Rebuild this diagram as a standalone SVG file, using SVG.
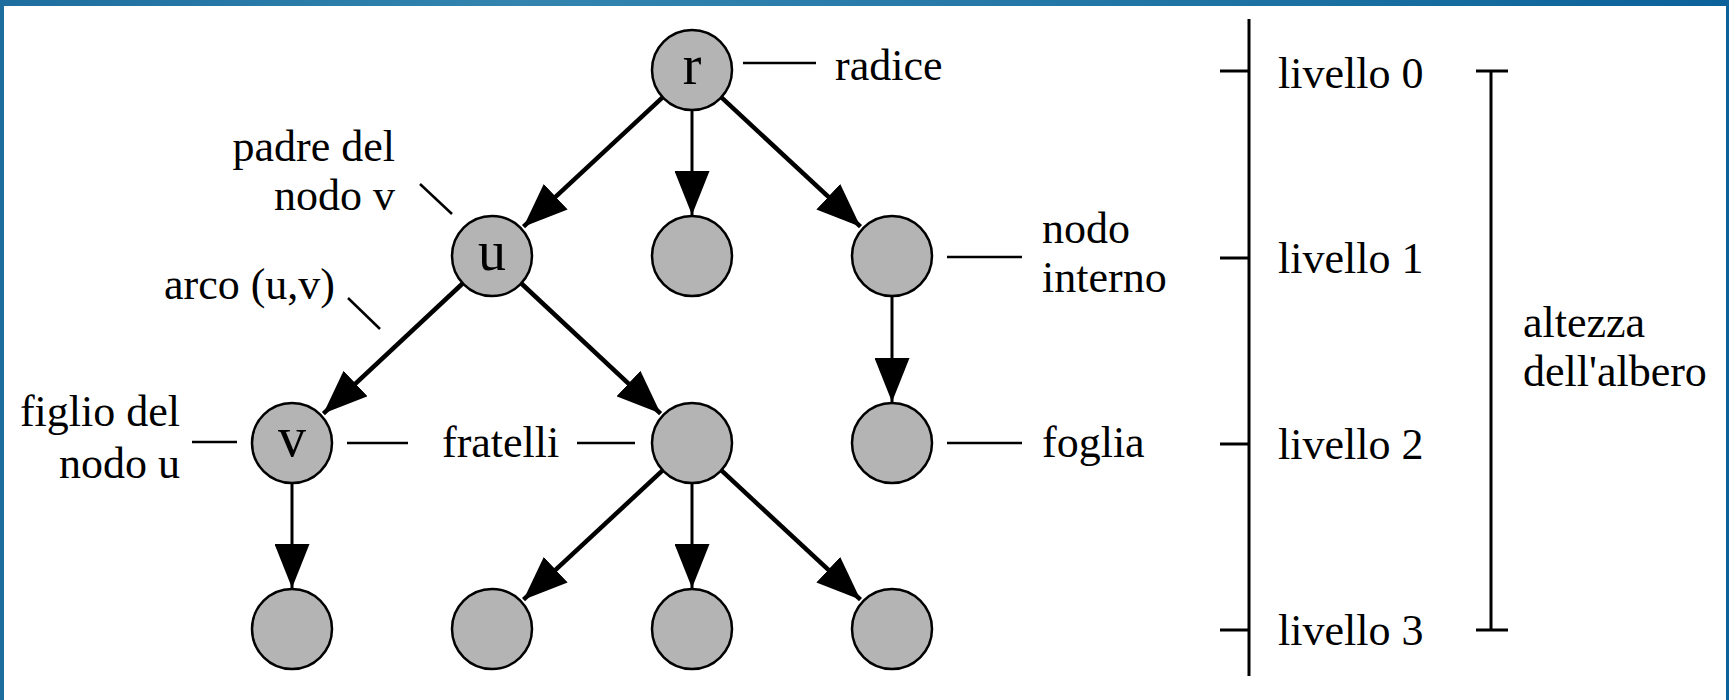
<svg xmlns="http://www.w3.org/2000/svg" width="1729" height="700" viewBox="0 0 1729 700">
<style>
text{font-family:"Liberation Serif","Times New Roman",serif;font-size:44px;fill:#000}
.lbl{font-size:56px}
.node{fill:#b4b4b4;stroke:#000;stroke-width:2.5}
.edge{stroke:#000;stroke-width:4.5;fill:none}
.vert{stroke-width:3}
.lead{stroke:#000;stroke-width:2.5;fill:none}
.scale{stroke:#000;stroke-width:3;fill:none}
</style>
<defs>
<linearGradient id="bg" x1="0" y1="0" x2="1" y2="0">
<stop offset="0" stop-color="#1d6e9e"/>
<stop offset="0.3" stop-color="#3385b0"/>
<stop offset="0.7" stop-color="#1f73a3"/>
<stop offset="1" stop-color="#0b6199"/>
</linearGradient>
<marker id="ah" viewBox="0 0 44 35" refX="44" refY="17.5" markerWidth="44" markerHeight="35" markerUnits="userSpaceOnUse" orient="auto">
<path d="M0,0 L44,17.5 L0,35 Z" fill="#000"/>
</marker>
</defs>
<rect x="0" y="0" width="1729" height="700" fill="url(#bg)"/>
<rect x="4" y="6" width="1722" height="694" fill="#fff"/>

<g id="connectors">
<line class="edge" x1="664.2" y1="95.9" x2="523.5" y2="226.7" marker-end="url(#ah)"/>
<line class="edge vert" x1="692" y1="108" x2="692" y2="215" marker-end="url(#ah)"/>
<line class="edge" x1="719.8" y1="95.9" x2="860.5" y2="226.7" marker-end="url(#ah)"/>
<line class="edge" x1="464.2" y1="282" x2="323.4" y2="413.6" marker-end="url(#ah)"/>
<line class="edge" x1="519.8" y1="282" x2="660.6" y2="413.6" marker-end="url(#ah)"/>
<line class="edge vert" x1="892" y1="294" x2="892" y2="402" marker-end="url(#ah)"/>
<line class="edge vert" x1="292" y1="481" x2="292" y2="588" marker-end="url(#ah)"/>
<line class="edge" x1="664.2" y1="468.9" x2="523.5" y2="599.7" marker-end="url(#ah)"/>
<line class="edge vert" x1="692" y1="481" x2="692" y2="588" marker-end="url(#ah)"/>
<line class="edge" x1="719.8" y1="468.9" x2="860.5" y2="599.7" marker-end="url(#ah)"/>
</g>

<g id="node-r"><circle class="node" cx="692" cy="70" r="40"/><text class="lbl" x="692" y="84" text-anchor="middle">r</text></g>
<g id="node-u"><circle class="node" cx="492" cy="256" r="40"/><text class="lbl" x="492" y="270" text-anchor="middle">u</text></g>
<g id="node-l1m"><circle class="node" cx="692" cy="256" r="40"/></g>
<g id="node-l1r"><circle class="node" cx="892" cy="256" r="40"/></g>
<g id="node-v"><circle class="node" cx="292" cy="443" r="40"/><text class="lbl" x="292" y="456" text-anchor="middle">v</text></g>
<g id="node-l2m"><circle class="node" cx="692" cy="443" r="40"/></g>
<g id="node-l2r"><circle class="node" cx="892" cy="443" r="40"/></g>
<g id="node-l3a"><circle class="node" cx="292" cy="629" r="40"/></g>
<g id="node-l3b"><circle class="node" cx="492" cy="629" r="40"/></g>
<g id="node-l3c"><circle class="node" cx="692" cy="629" r="40"/></g>
<g id="node-l3d"><circle class="node" cx="892" cy="629" r="40"/></g>

<g id="annotations">
<line class="lead" x1="743" y1="63" x2="816" y2="63"/>
<text x="835" y="80">radice</text>
<line class="lead" x1="420" y1="184" x2="452" y2="214"/>
<text x="395" y="161" text-anchor="end">padre del</text>
<text x="395" y="210" text-anchor="end">nodo v</text>
<line class="lead" x1="348" y1="298" x2="380" y2="329"/>
<text x="335" y="299" text-anchor="end">arco (u,v)</text>
<line class="lead" x1="192" y1="442" x2="237" y2="442"/>
<text x="180" y="426" text-anchor="end">figlio del</text>
<text x="180" y="478" text-anchor="end">nodo u</text>
<line class="lead" x1="347" y1="443" x2="408" y2="443"/>
<text x="442" y="457">fratelli</text>
<line class="lead" x1="577" y1="443" x2="635" y2="443"/>
<line class="lead" x1="947" y1="257" x2="1022" y2="257"/>
<text x="1042" y="243">nodo</text>
<text x="1042" y="292">interno</text>
<line class="lead" x1="947" y1="443" x2="1022" y2="443"/>
<text x="1042" y="457">foglia</text>
</g>

<g id="levels">
<line class="scale" x1="1249" y1="19" x2="1249" y2="676"/>
<line class="scale" x1="1220" y1="71" x2="1249" y2="71"/>
<line class="scale" x1="1220" y1="258" x2="1249" y2="258"/>
<line class="scale" x1="1220" y1="444" x2="1249" y2="444"/>
<line class="scale" x1="1220" y1="630" x2="1249" y2="630"/>
<text x="1278" y="88">livello 0</text>
<text x="1278" y="273">livello 1</text>
<text x="1278" y="459">livello 2</text>
<text x="1278" y="645">livello 3</text>
</g>

<g id="height">
<line class="scale" x1="1491" y1="71" x2="1491" y2="630"/>
<line class="scale" x1="1476" y1="71" x2="1508" y2="71"/>
<line class="scale" x1="1476" y1="630" x2="1508" y2="630"/>
<text x="1523" y="337">altezza</text>
<text x="1523" y="386">dell'albero</text>
</g>
</svg>
